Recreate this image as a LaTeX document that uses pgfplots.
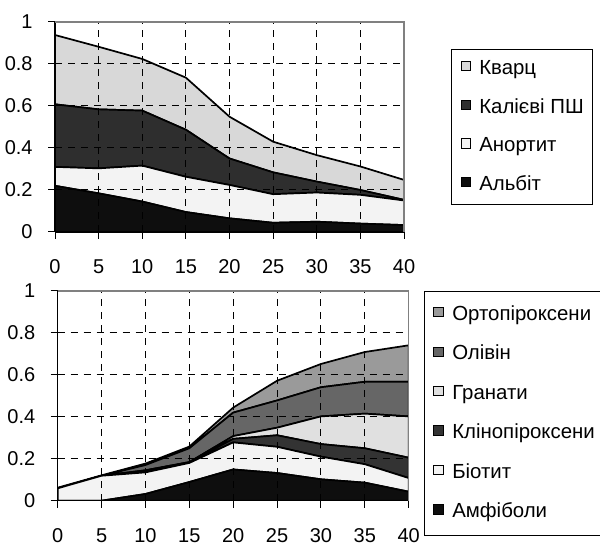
\documentclass[border=0pt]{standalone}
\usepackage{pgfplots}
\usepackage{pgfplotstable}
\pgfplotsset{compat=1.18}
\usepackage{fontspec}
\setmainfont{Liberation Sans}

\pgfplotstableread{
x Ab An Kfs Qz
0 0.220 0.090 0.298 0.330
5 0.184 0.119 0.281 0.298
10 0.145 0.171 0.262 0.246
15 0.095 0.168 0.224 0.248
20 0.065 0.159 0.126 0.199
25 0.044 0.136 0.104 0.146
30 0.049 0.139 0.052 0.126
35 0.040 0.137 0.023 0.112
40 0.033 0.117 0.003 0.095
}\toptable

\pgfplotstableread{
x Amf Bt Cpx Grt Ol Opx
0 0.000 0.059 0.000 0.000 0.000 0.003
5 0.000 0.119 0.000 0.000 0.000 0.002
10 0.032 0.103 0.005 0.005 0.025 0.007
15 0.089 0.091 0.002 0.002 0.066 0.008
20 0.149 0.129 0.017 0.013 0.112 0.024
25 0.132 0.125 0.055 0.036 0.130 0.094
30 0.102 0.108 0.060 0.132 0.139 0.111
35 0.086 0.088 0.076 0.165 0.152 0.142
40 0.043 0.065 0.097 0.197 0.165 0.174
}\bottable

\definecolor{cQz}{HTML}{D8D8D8}
\definecolor{cKfs}{HTML}{2E2E2E}
\definecolor{cAn}{HTML}{F3F3F3}
\definecolor{cAb}{HTML}{0E0E0E}
\definecolor{cOpx}{HTML}{9A9A9A}
\definecolor{cOl}{HTML}{666666}
\definecolor{cGrt}{HTML}{E0E0E0}
\definecolor{cCpx}{HTML}{333333}
\definecolor{cBt}{HTML}{F3F3F3}
\definecolor{cAmf}{HTML}{0E0E0E}

\pgfplotsset{
  myax/.style={
    scale only axis,
    xmin=0, xmax=40, ymin=0, ymax=1,
    xtick={0,5,10,15,20,25,30,35,40},
    ytick={0,0.2,0.4,0.6,0.8,1},
    grid=major,
    major grid style={black, dash pattern=on 3.5pt off 3pt, line width=0.5pt},
    axis x line*=bottom, axis y line*=left,
    axis line style={black, line width=0.6pt, -},
    tick align=outside, major tick length=3.5pt,
    tick style={black, line width=0.5pt},
    /pgf/number format/assume math mode=true,
    xticklabel style={anchor=center, yshift=-14pt},
    yticklabel style={anchor=east, inner sep=0pt, xshift=-7.5pt},
    stack plots=y,
    area style,
    every axis plot/.append style={draw=black, line width=0.85pt},
    legend cell align=left,
    reverse legend,
    legend image code/.code={\draw[#1, draw=black, line width=0.5pt] (0pt,-0.9pt) rectangle (4.6pt,3.7pt);},
    after end axis/.code={\draw[black!50, line width=0.6pt] (rel axis cs:0,1) -- (rel axis cs:1,1) -- (rel axis cs:1,0);},
  }
}

\begin{document}
\fontsize{10}{12}\selectfont
\begin{tikzpicture}[x=1pt,y=1pt]
\useasboundingbox (0,0) rectangle (300,272);

\begin{axis}[myax,
  at={(27.5pt,156pt)}, anchor=south west,
  width=174.5pt, height=105pt,
  legend style={at={(1.1347,0.8714)}, anchor=north west, draw=black, line width=0.5pt,
    inner xsep=4.5pt, inner ysep=5pt, row sep=9.83pt, column sep=4.3pt,
    font=\fontsize{10.2}{12}\selectfont,
    nodes={inner sep=0pt, text height=7.5pt, text depth=2pt}},
]
\addplot[fill=cAb] table[x=x,y=Ab]{\toptable} \closedcycle;
\addlegendentry{Альбіт}
\addplot[fill=cAn] table[x=x,y=An]{\toptable} \closedcycle;
\addlegendentry{Анортит}
\addplot[fill=cKfs] table[x=x,y=Kfs]{\toptable} \closedcycle;
\addlegendentry{Калієві ПШ}
\addplot[fill=cQz] table[x=x,y=Qz]{\toptable} \closedcycle;
\addlegendentry{Кварц}
\end{axis}

\begin{axis}[myax,
  at={(28.85pt,21.65pt)}, anchor=south west,
  width=175.5pt, height=104.85pt,
  legend style={at={(1.0436,1.0)}, anchor=north west, draw=black, line width=0.5pt,
    inner xsep=4.5pt, inner ysep=7pt, row sep=10.23pt, column sep=4.3pt,
    font=\fontsize{10.2}{12}\selectfont,
    nodes={inner sep=0pt, text height=7.5pt, text depth=2pt}},
]
\addplot[fill=cAmf] table[x=x,y=Amf]{\bottable} \closedcycle;
\addlegendentry{Амфіболи}
\addplot[fill=cBt] table[x=x,y=Bt]{\bottable} \closedcycle;
\addlegendentry{Біотит}
\addplot[fill=cCpx] table[x=x,y=Cpx]{\bottable} \closedcycle;
\addlegendentry{Клінопіроксени}
\addplot[fill=cGrt] table[x=x,y=Grt]{\bottable} \closedcycle;
\addlegendentry{Гранати}
\addplot[fill=cOl] table[x=x,y=Ol]{\bottable} \closedcycle;
\addlegendentry{Олівін}
\addplot[fill=cOpx] table[x=x,y=Opx]{\bottable} \closedcycle;
\addlegendentry{Ортопіроксени}
\end{axis}
\end{tikzpicture}
\end{document}
